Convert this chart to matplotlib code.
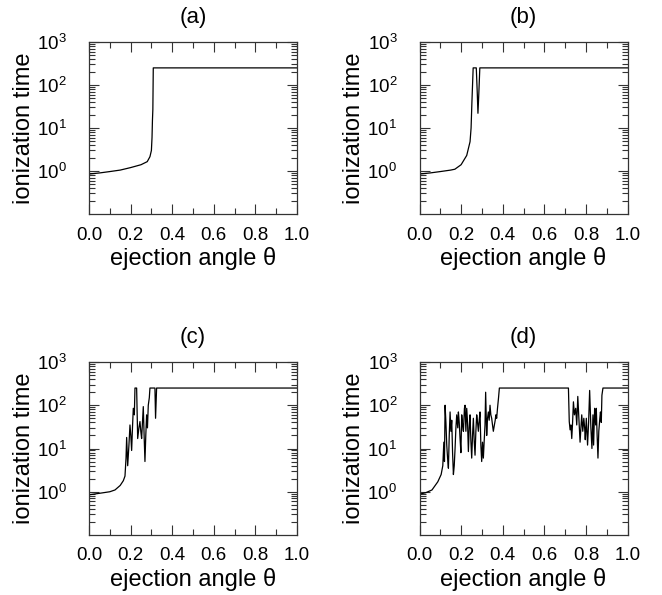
import matplotlib
matplotlib.use("Agg")
import matplotlib.pyplot as plt
from matplotlib.ticker import FixedLocator, NullFormatter, FixedFormatter

plt.rcParams['font.family'] = ['Liberation Sans', 'DejaVu Sans']
plt.rcParams['mathtext.fontset'] = 'custom'
plt.rcParams['mathtext.rm'] = 'Liberation Sans'

# ---------------- data ----------------
panel_titles = ["(a)", "(b)", "(c)", "(d)"]
x_label = "ejection angle θ"
y_label = "ionization time"
x_tick_values = [0.0, 0.2, 0.4, 0.6, 0.8, 1.0]
x_tick_labels = ["0.0", "0.2", "0.4", "0.6", "0.8", "1.0"]
y_tick_values = [1, 10, 100, 1000]
y_tick_labels = [r"$\mathregular{10^{0}}$", r"$\mathregular{10^{1}}$",
                 r"$\mathregular{10^{2}}$", r"$\mathregular{10^{3}}$"]

theta_a = [0.0, 0.05, 0.10, 0.15, 0.20, 0.25, 0.28, 0.293, 0.300, 0.303,
           0.305, 0.307, 0.309, 1.0]
time_a = [0.85, 0.9, 0.97, 1.05, 1.2, 1.4, 1.65, 2.15, 3.0, 6.0,
          15, 27, 250, 250]

theta_b = [0.0, 0.05, 0.10, 0.15, 0.17, 0.20, 0.227, 0.243, 0.248, 0.252,
           0.255, 0.258, 0.268, 0.273, 0.278, 0.281, 0.285, 0.29, 1.0]
time_b = [0.85, 0.9, 0.97, 1.05, 1.1, 1.4, 2.3, 4.8, 10, 40,
          100, 250, 250, 250, 60, 22, 60, 250, 250]

theta_c = [0.0, 0.05, 0.10, 0.125, 0.15, 0.165, 0.173, 0.178, 0.181, 0.186,
           0.192, 0.197, 0.201, 0.205, 0.209, 0.213, 0.218, 0.221, 0.229, 0.234,
           0.240, 0.245, 0.249, 0.253, 0.257, 0.261, 0.265, 0.269, 0.273, 0.277,
           0.281, 0.285, 0.290, 0.293, 0.317, 0.320, 0.325, 1.0]
time_c = [0.85, 0.92, 1.0, 1.1, 1.4, 1.8, 2.3, 6, 18, 4,
          12, 35, 20, 9, 30, 85, 60, 250, 250, 17,
          30, 42, 25, 17, 40, 93, 20, 5, 20, 60,
          30, 100, 150, 250, 250, 50, 250, 250]

theta_d = [0.0, 0.03, 0.06, 0.088, 0.104, 0.112, 0.117, 0.12, 0.123, 0.127,
           0.131, 0.135, 0.139, 0.143, 0.147, 0.151, 0.155, 0.159, 0.163, 0.167,
           0.171, 0.175, 0.179, 0.184, 0.187, 0.191, 0.195, 0.199, 0.203, 0.207,
           0.211, 0.216, 0.219, 0.223, 0.227, 0.231, 0.235, 0.239, 0.243, 0.247,
           0.251, 0.255, 0.259, 0.263, 0.267, 0.271, 0.275, 0.279, 0.283, 0.287,
           0.291, 0.295, 0.299, 0.303, 0.307, 0.311, 0.315, 0.318, 0.323, 0.327,
           0.331, 0.335, 0.339, 0.343, 0.347, 0.351, 0.355, 0.36, 0.364, 0.367,
           0.371, 0.375, 0.38, 0.384, 0.716, 0.72, 0.724, 0.728, 0.732, 0.736,
           0.74, 0.745, 0.751, 0.756, 0.761, 0.767, 0.772, 0.776, 0.78, 0.785,
           0.79, 0.794, 0.797, 0.802, 0.808, 0.813, 0.818, 0.824, 0.829, 0.834,
           0.837, 0.842, 0.847, 0.85, 0.854, 0.858, 0.862, 0.867, 0.87, 0.874,
           0.877, 0.882, 1.0]
time_d = [0.88, 0.95, 1.1, 1.7, 2.5, 4, 14, 5, 100, 40,
          12, 6, 3.5, 20, 70, 25, 45, 8, 2.5, 4,
          10, 30, 60, 30, 70, 40, 17, 8, 60, 35,
          25, 85, 100, 25, 85, 40, 8.5, 30, 60, 15,
          6, 20, 50, 15, 7, 25, 60, 40, 25, 45,
          70, 12, 5, 14, 6, 15, 35, 200, 20, 50,
          70, 45, 100, 60, 50, 35, 25, 35, 45, 60,
          50, 85, 150, 250, 250, 42, 27, 35, 17, 40,
          120, 60, 85, 35, 160, 42, 14, 30, 60, 25,
          50, 30, 16, 50, 12, 40, 220, 30, 10, 60,
          12, 85, 35, 85, 20, 6, 25, 50, 70, 40,
          170, 250, 250]

series = [(theta_a, time_a), (theta_b, time_b), (theta_c, time_c), (theta_d, time_d)]

# ---------------- figure ----------------
fig = plt.figure(figsize=(6.62, 5.95), dpi=100)
W, H = 662.0, 595.0
boxes = [(89, 42, 297, 214), (419.5, 42, 627.5, 214),
         (89, 362, 297, 535), (419.5, 362, 627.5, 535)]

minor_y = [m * 10.0 ** e for e in range(-1, 3) for m in range(2, 10)]
minor_x = [0.1, 0.3, 0.5, 0.7, 0.9]

for (x0, y0, x1, y1), title, (xs, ys) in zip(boxes, panel_titles, series):
    ax = fig.add_axes([x0 / W, 1 - y1 / H, (x1 - x0) / W, (y1 - y0) / H])
    ax.plot(xs, ys, color='black', lw=0.9)
    ax.set_yscale('log')
    ax.set_xlim(0, 1)
    ax.set_ylim(0.1, 1000)
    ax.yaxis.set_major_locator(FixedLocator(y_tick_values))
    ax.yaxis.set_major_formatter(FixedFormatter(y_tick_labels))
    ax.yaxis.set_minor_locator(FixedLocator(minor_y))
    ax.yaxis.set_minor_formatter(NullFormatter())
    ax.xaxis.set_major_locator(FixedLocator(x_tick_values))
    ax.xaxis.set_major_formatter(FixedFormatter(x_tick_labels))
    ax.xaxis.set_minor_locator(FixedLocator(minor_x))
    ax.tick_params(which='both', direction='in', top=True, right=True,
                   width=0.8, color='#333333')
    ax.tick_params(which='major', length=7.5)
    ax.tick_params(which='minor', length=4.5)
    ax.tick_params(axis='x', which='major', labelsize=13.5, pad=9)
    ax.tick_params(axis='y', which='major', labelsize=13.5, pad=16)
    for s in ax.spines.values():
        s.set_linewidth(0.9)
        s.set_color('#333333')
    ax.set_title(title, fontsize=16, pad=14)
    ax.set_xlabel(x_label, fontsize=17)
    ax.set_ylabel(y_label, fontsize=17)
    ax.xaxis.set_label_coords(0.5, -0.19)
    ax.yaxis.set_label_coords(-0.26, 0.5)

fig.savefig("out.png", dpi=100)
